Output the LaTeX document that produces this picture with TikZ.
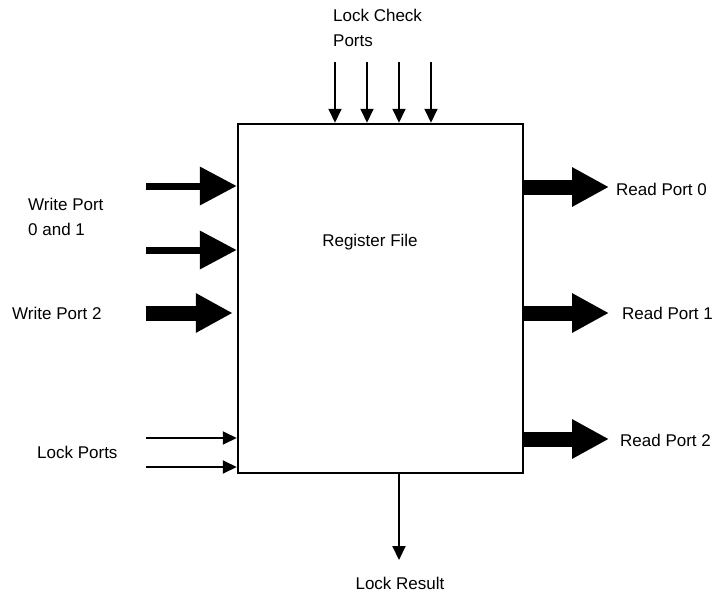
\documentclass[tikz,border=0pt]{standalone}
\usepackage{fontspec}
\setmainfont{Liberation Sans}
\usetikzlibrary{arrows.meta}
\begin{document}
\begin{tikzpicture}[x=1pt,y=-1pt,
  lbl/.style={font=\fontsize{17}{25}\selectfont, inner sep=0pt},
  bigarrow/.style={line width=#1, -{Triangle[length=37pt,width=37pt]}},
  thinarrow/.style={line width=2pt, -{Triangle[length=14pt,width=13pt]}}]
  \useasboundingbox (0,0) rectangle (712,595);
  % register file block
  \node[draw, line width=2.5pt, minimum width=285pt, minimum height=349pt,
        inner sep=0pt] (rf) at (380.5,298.5) {};
  \node[lbl] (rflbl) at (370,242) {Register File};
  % write ports
  \coordinate (w0) at (146,186);
  \coordinate (w1) at (146,250);
  \coordinate (w2) at (146,313);
  \draw[bigarrow=7pt] (w0) -- (w0 -| rf.west);
  \draw[bigarrow=7pt] (w1) -- (w1 -| rf.west);
  \draw[bigarrow=15pt] (w2) -- ([xshift=-4pt]w2 -| rf.west);
  \node[lbl, anchor=west, align=left] (wlbl) at (28,217) {Write Port\\0 and 1};
  \node[lbl, anchor=west] (w2lbl) at (12,313) {Write Port 2};
  % read ports
  \coordinate (r0) at (609,187);
  \coordinate (r1) at (609,313);
  \coordinate (r2) at (609,439);
  \draw[bigarrow=15pt] (r0 -| rf.east) -- (r0);
  \draw[bigarrow=15pt] (r1 -| rf.east) -- (r1);
  \draw[bigarrow=15pt] (r2 -| rf.east) -- (r2);
  \node[lbl, anchor=west] (r0lbl) at (616,189) {Read Port 0};
  \node[lbl, anchor=west] (r1lbl) at (622,313) {Read Port 1};
  \node[lbl, anchor=west] (r2lbl) at (620,440) {Read Port 2};
  % lock ports
  \coordinate (l0) at (146,438);
  \coordinate (l1) at (146,467);
  \draw[thinarrow] (l0) -- (l0 -| rf.west);
  \draw[thinarrow] (l1) -- (l1 -| rf.west);
  \node[lbl, anchor=west] (llbl) at (37,452) {Lock Ports};
  % lock check ports
  \foreach \x [count=\i] in {335,367,399,431} {
    \coordinate (c\i) at (\x,62);
    \draw[thinarrow] (c\i) -- (c\i |- rf.north);
  }
  \node[lbl, anchor=west, align=left] (clbl) at (333,28) {Lock Check\\Ports};
  % lock result
  \coordinate (res) at (399,560);
  \draw[thinarrow] (res |- rf.south) -- (res);
  \node[lbl] (reslbl) at (400,583) {Lock Result};
\end{tikzpicture}
\end{document}
